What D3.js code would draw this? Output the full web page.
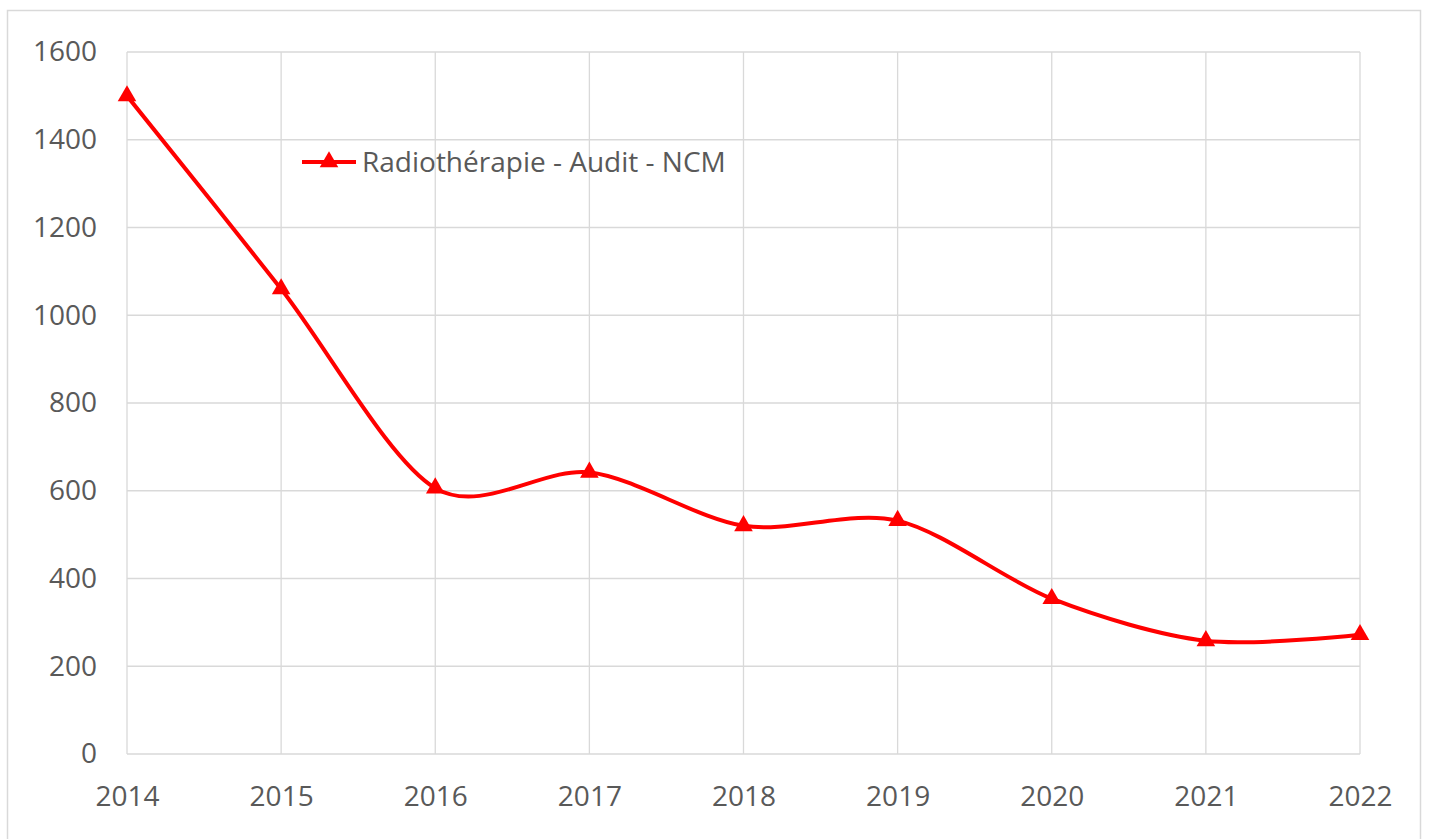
<!DOCTYPE html>
<html>
<head>
<meta charset="utf-8">
<script src="https://cdn.jsdelivr.net/npm/d3@7"></script>
<style>
  body { margin: 0; background: #fff; }
  text { font-family: "Open Sans", sans-serif; fill: #595959; }
</style>
</head>
<body>
<div id="chart"></div>
<script>
// data
const years = [2014, 2015, 2016, 2017, 2018, 2019, 2020, 2021, 2022];
const values = [1500, 1060, 606, 642, 520, 532, 354, 258, 272];
const yTicks = [0, 200, 400, 600, 800, 1000, 1200, 1400, 1600];
const seriesName = 'Radiothérapie - Audit - NCM';

const width = 1430;
const height = 839;
const margin = { left: 127, right: 70, top: 52, bottom: 85 };

const svg = d3.select('#chart')
  .append('svg')
  .attr('width', width)
  .attr('height', height);

// chart frame
svg.append('rect')
  .attr('x', 7.5)
  .attr('y', 10.5)
  .attr('width', 1413)
  .attr('height', 860)
  .attr('fill', 'none')
  .attr('stroke', '#d9d9d9')
  .attr('stroke-width', 1.5);

const x = d3.scalePoint()
  .domain(years)
  .range([margin.left, width - margin.right]);

const y = d3.scaleLinear()
  .domain([0, 1600])
  .range([height - margin.bottom, margin.top]);

// horizontal grid
svg.append('g')
  .selectAll('line')
  .data(yTicks)
  .enter()
  .append('line')
  .attr('x1', margin.left)
  .attr('x2', width - margin.right)
  .attr('y1', d => y(d))
  .attr('y2', d => y(d))
  .attr('stroke', '#d9d9d9')
  .attr('stroke-width', 1.3);

// vertical grid
svg.append('g')
  .selectAll('line')
  .data(years)
  .enter()
  .append('line')
  .attr('x1', d => x(d))
  .attr('x2', d => x(d))
  .attr('y1', y(0))
  .attr('y2', y(1600))
  .attr('stroke', '#d9d9d9')
  .attr('stroke-width', 1.3);

// y axis labels
const yAxis = svg.append('g')
  .attr('transform', `translate(${margin.left}, 0)`)
  .call(d3.axisLeft(y).tickValues(yTicks).tickSize(0).tickPadding(30).tickFormat(d3.format('d')));
yAxis.select('.domain').remove();
yAxis.selectAll('text')
  .style('font-family', '"Open Sans", sans-serif')
  .style('font-size', '28px')
  .attr('fill', '#595959');

// x axis labels
const xAxis = svg.append('g')
  .attr('transform', `translate(0, ${y(0)})`)
  .call(d3.axisBottom(x).tickSize(0).tickPadding(32).tickFormat(d3.format('d')));
xAxis.select('.domain').remove();
xAxis.selectAll('text')
  .style('font-family', '"Open Sans", sans-serif')
  .style('font-size', '28px')
  .attr('fill', '#595959');

// series line
const line = d3.line()
  .x((d, i) => x(years[i]))
  .y(d => y(d))
  .curve(d3.curveCardinal.tension(0.1));

svg.append('path')
  .datum(values)
  .attr('d', line)
  .attr('fill', 'none')
  .attr('stroke', '#ff0000')
  .attr('stroke-width', 4);

const triangle = d3.symbol().type(d3.symbolTriangle).size(150);

svg.append('g')
  .selectAll('path')
  .data(values)
  .enter()
  .append('path')
  .attr('d', triangle)
  .attr('transform', (d, i) => `translate(${x(years[i])}, ${y(d)})`)
  .attr('fill', '#ff0000');

// legend
const legend = svg.append('g').attr('transform', 'translate(302, 162)');
legend.append('line')
  .attr('x1', 0)
  .attr('x2', 54)
  .attr('stroke', '#ff0000')
  .attr('stroke-width', 4);
legend.append('path')
  .attr('d', triangle)
  .attr('transform', 'translate(27, 0)')
  .attr('fill', '#ff0000');
legend.append('text')
  .attr('x', 60)
  .attr('dy', '0.35em')
  .style('font-size', '28px')
  .text(seriesName);
</script>
</body>
</html>
